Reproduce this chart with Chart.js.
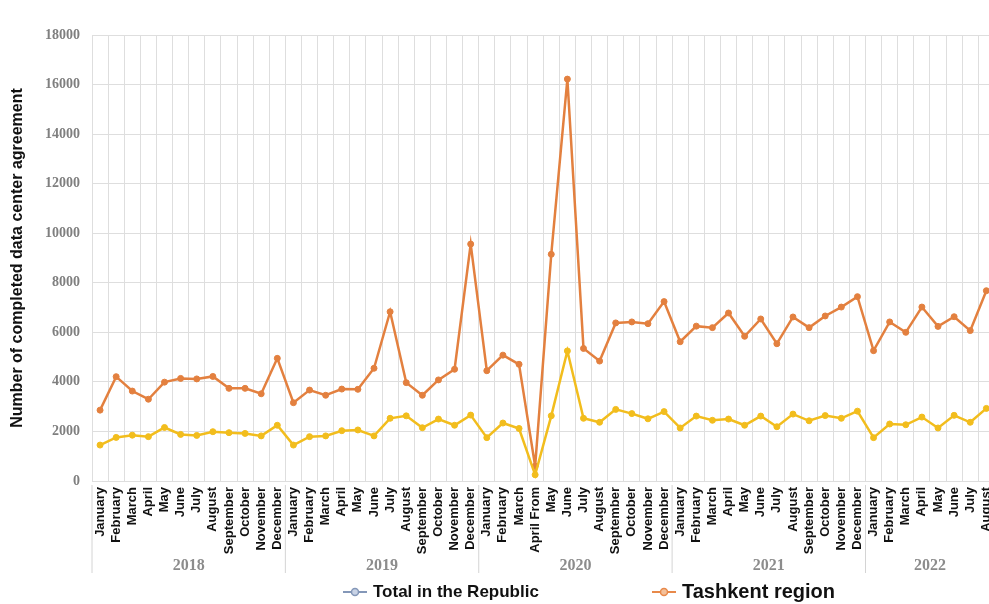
<!DOCTYPE html>
<html>
<head>
<meta charset="utf-8">
<script src="https://cdn.jsdelivr.net/npm/chart.js@4.4.0/dist/chart.umd.min.js"></script>
<style>
    html, body { margin: 0; padding: 0; background: #fff; width: 989px; height: 604px; overflow: hidden; }
    #wrap { position: relative; width: 1008px; height: 604px; }
    .legend-item { position: absolute; display: flex; align-items: center; font-family: "Liberation Sans", Arial, sans-serif; font-weight: bold; color: #111; white-space: nowrap; }
    .legend-item svg { margin-right: 6px; }
</style>
</head>
<body>
<div id="wrap">
    <canvas id="agreementChart" width="1008" height="604"></canvas>
    <div class="legend-item" style="left:343px; top:582px; font-size:17px;">
        <svg width="24" height="12"><line x1="0" y1="6" x2="24" y2="6" stroke="#8497b8" stroke-width="2"/><circle cx="12" cy="6" r="3.5" fill="#c9d3e6" stroke="#8497b8" stroke-width="1.5"/></svg>
        Total in the Republic
    </div>
    <div class="legend-item" style="left:652px; top:580px; font-size:20px;">
        <svg width="24" height="12"><line x1="0" y1="6" x2="24" y2="6" stroke="#e8894a" stroke-width="2"/><circle cx="12" cy="6" r="3.5" fill="#f3c09a" stroke="#e8894a" stroke-width="1.5"/></svg>
        Tashkent region
    </div>
</div>
<script>
// Month labels, Jan 2018 .. Aug 2022
const monthLabels = [
    'January', 'February', 'March', 'April', 'May', 'June', 'July', 'August', 'September', 'October', 'November', 'December',
    'January', 'February', 'March', 'April', 'May', 'June', 'July', 'August', 'September', 'October', 'November', 'December',
    'January', 'February', 'March', 'April From', 'May', 'June', 'July', 'August', 'September', 'October', 'November', 'December',
    'January', 'February', 'March', 'April', 'May', 'June', 'July', 'August', 'September', 'October', 'November', 'December',
    'January', 'February', 'March', 'April', 'May', 'June', 'July', 'August'
];
const years = ['2018', '2019', '2020', '2021', '2022'];
const yearMonthCounts = [12, 12, 12, 12, 8];

const totalRepublic = [
    1450, 1760, 1850, 1790, 2160, 1880, 1840, 1990, 1950, 1920, 1820, 2250,
    1450, 1790, 1820, 2030, 2060, 1820, 2530, 2630, 2150, 2500, 2250, 2660,
    1750, 2340, 2120, 250, 2630, 5250, 2530, 2370, 2890, 2720, 2510, 2800,
    2140, 2620, 2450, 2500, 2250, 2620, 2190, 2700, 2430, 2640, 2530, 2820,
    1750, 2300, 2270, 2580, 2140, 2650, 2370, 2930
];
const tashkentRegion = [
    2860, 4210, 3630, 3300, 3990, 4140, 4120, 4220, 3740, 3740, 3520, 4950,
    3160, 3670, 3460, 3710, 3700, 4550, 6830, 3970, 3460, 4080, 4510, 9560,
    4450, 5080, 4710, 600, 9150, 16220, 5350, 4840, 6380, 6420, 6350, 7240,
    5620, 6250, 6190, 6780, 5840, 6540, 5540, 6620, 6190, 6660, 7020, 7440,
    5260, 6420, 6000, 7020, 6240, 6630, 6070, 7680
];

const yTicksMax = 18000;
const yTicksStep = 2000;

// year groups under the month labels
const yearBands = {
    id: 'yearBands',
    afterDraw(chart) {
        const x = chart.scales.x;
        const ctx = chart.ctx;
        const step = x.getPixelForValue(1) - x.getPixelForValue(0);
        const top = chart.chartArea.bottom + 4;
        let start = 0;
        ctx.save();
        ctx.strokeStyle = '#d4d4d4';
        ctx.lineWidth = 1;
        ctx.font = 'bold 16px "Liberation Serif", serif';
        ctx.fillStyle = '#8c8c8c';
        ctx.textAlign = 'center';
        ctx.textBaseline = 'middle';
        years.forEach((yr, i) => {
            const n = yearMonthCounts[i];
            const left = x.getPixelForValue(start) - step / 2;
            ctx.beginPath();
            ctx.moveTo(left, top);
            ctx.lineTo(left, top + 88);
            ctx.stroke();
            const mid = (x.getPixelForValue(start) + x.getPixelForValue(start + n - 1)) / 2;
            ctx.fillText(yr, mid, top + 81);
            start += n;
        });
        ctx.restore();
    }
};

const ctx = document.getElementById('agreementChart').getContext('2d');
new Chart(ctx, {
    type: 'line',
    data: {
        labels: monthLabels,
        datasets: [{
            label: 'Total in the Republic',
            data: totalRepublic,
            borderColor: '#f2bd1d',
            backgroundColor: '#f2bd1d',
            borderWidth: 2.5,
            pointRadius: 3,
            pointBorderWidth: 1,
            tension: 0,
            fill: false
        }, {
            label: 'Tashkent region',
            data: tashkentRegion,
            borderColor: '#e3803f',
            backgroundColor: '#e3803f',
            borderWidth: 2.5,
            pointRadius: 3,
            pointBorderWidth: 1,
            tension: 0,
            fill: false
        }]
    },
    options: {
        responsive: false,
        animation: false,
        layout: { padding: { top: 35, right: 0, bottom: 43, left: 0 } },
        plugins: {
            legend: { display: false },
            tooltip: { enabled: false }
        },
        scales: {
            x: {
                offset: true,
                grid: { color: '#dedede', drawTicks: false, offset: true },
                border: { color: '#dedede' },
                ticks: {
                    autoSkip: false,
                    maxRotation: 90,
                    minRotation: 90,
                    padding: 6,
                    color: '#111',
                    font: { family: '"Liberation Sans", Arial, sans-serif', weight: 'bold', size: 13 }
                },
                afterFit: s => { s.height = 80; }
            },
            y: {
                min: 0,
                max: yTicksMax,
                grid: { color: '#dedede', drawTicks: false },
                border: { color: '#dedede' },
                ticks: {
                    stepSize: yTicksStep,
                    padding: 12,
                    color: '#7f7f7f',
                    font: { family: '"Liberation Serif", serif', weight: 'bold', size: 14 },
                    callback: v => String(v)
                },
                title: {
                    display: true,
                    text: 'Number of completed data center agreement',
                    color: '#111',
                    padding: { top: 8, bottom: 0 },
                    font: { family: '"Liberation Sans", Arial, sans-serif', weight: 'bold', size: 16 }
                },
                afterFit: s => { s.width = 92; }
            }
        }
    },
    plugins: [yearBands]
});
</script>
</body>
</html>
